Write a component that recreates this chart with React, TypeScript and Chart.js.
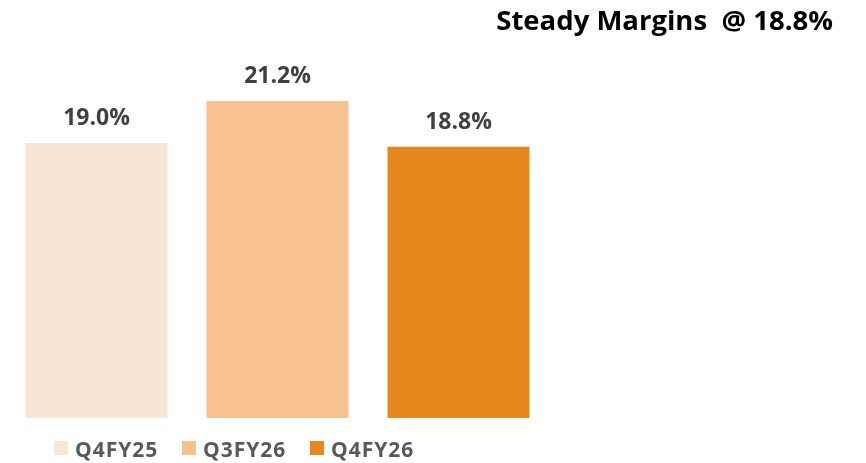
import React, { useEffect, useRef } from "react";
import { Chart, registerables } from "chart.js";

Chart.register(...registerables);

const categories = ["Q4FY25", "Q3FY26", "Q4FY26"];
const marginValues = [19.0, 21.2, 18.8];
const valueLabels = ["19.0%", "21.2%", "18.8%"];
const barColors = ["#F8E5D3", "#F9C190", "#E6881E"];
const chartTitle = "Steady Margins  @ 18.8%";

const overlayPlugin = {
  id: "overlay",
  afterDatasetsDraw(chart: any) {
    const ctx = chart.ctx;
    ctx.save();
    // value labels
    chart.data.datasets.forEach((ds: any, i: number) => {
      const meta = chart.getDatasetMeta(i);
      const el = meta.data[0];
      if (!el) return;
      ctx.font = "bold 23px 'Open Sans'";
      ctx.fillStyle = "#404040";
      ctx.textAlign = "center";
      ctx.textBaseline = "alphabetic";
      ctx.fillText(valueLabels[i], el.x, el.y - 18);
    });
    // legend
    let x = 54;
    ctx.font = "bold 21px 'Open Sans'";
    (ctx as any).letterSpacing = "1px";
    chart.data.datasets.forEach((ds: any, i: number) => {
      ctx.fillStyle = ds.backgroundColor;
      ctx.fillRect(x, 441, 14, 14);
      ctx.fillStyle = "#595959";
      ctx.textAlign = "left";
      ctx.fillText(ds.label, x + 21, 457);
      x += 128;
    });
    (ctx as any).letterSpacing = "0px";
    // title
    ctx.font = "bold 27.5px 'Open Sans'";
    ctx.fillStyle = "#000000";
    ctx.textAlign = "right";
    ctx.fillText(chartTitle, 833, 30);
    ctx.restore();
  },
};

export default function App() {
  const ref = useRef<HTMLCanvasElement>(null);
  useEffect(() => {
    if (!ref.current) return;
    const chart = new Chart(ref.current, {
      type: "bar",
      data: {
        labels: [""],
        datasets: categories.map((c, i) => ({
          label: c,
          data: [marginValues[i]],
          backgroundColor: barColors[i],
          borderWidth: 0,
          categoryPercentage: 1,
          barPercentage: 0.7845,
        })),
      },
      options: {
        responsive: false,
        animation: false,
        layout: { padding: { top: 60, bottom: 45, left: 6, right: 317 } },
        plugins: {
          legend: { display: false },
          title: { display: false },
          tooltip: { enabled: false },
        },
        scales: {
          x: { display: false },
          y: { display: false, min: 4.6, max: 23.35 },
        },
      },
      plugins: [overlayPlugin],
    });
    return () => chart.destroy();
  }, []);
  return (
    <div style={{ position: "absolute", left: 0, top: 0, width: 866, height: 463, background: "#fff" }}>
      <canvas ref={ref} width={866} height={463} style={{ display: "block", width: 866, height: 463 }} />
    </div>
  );
}
